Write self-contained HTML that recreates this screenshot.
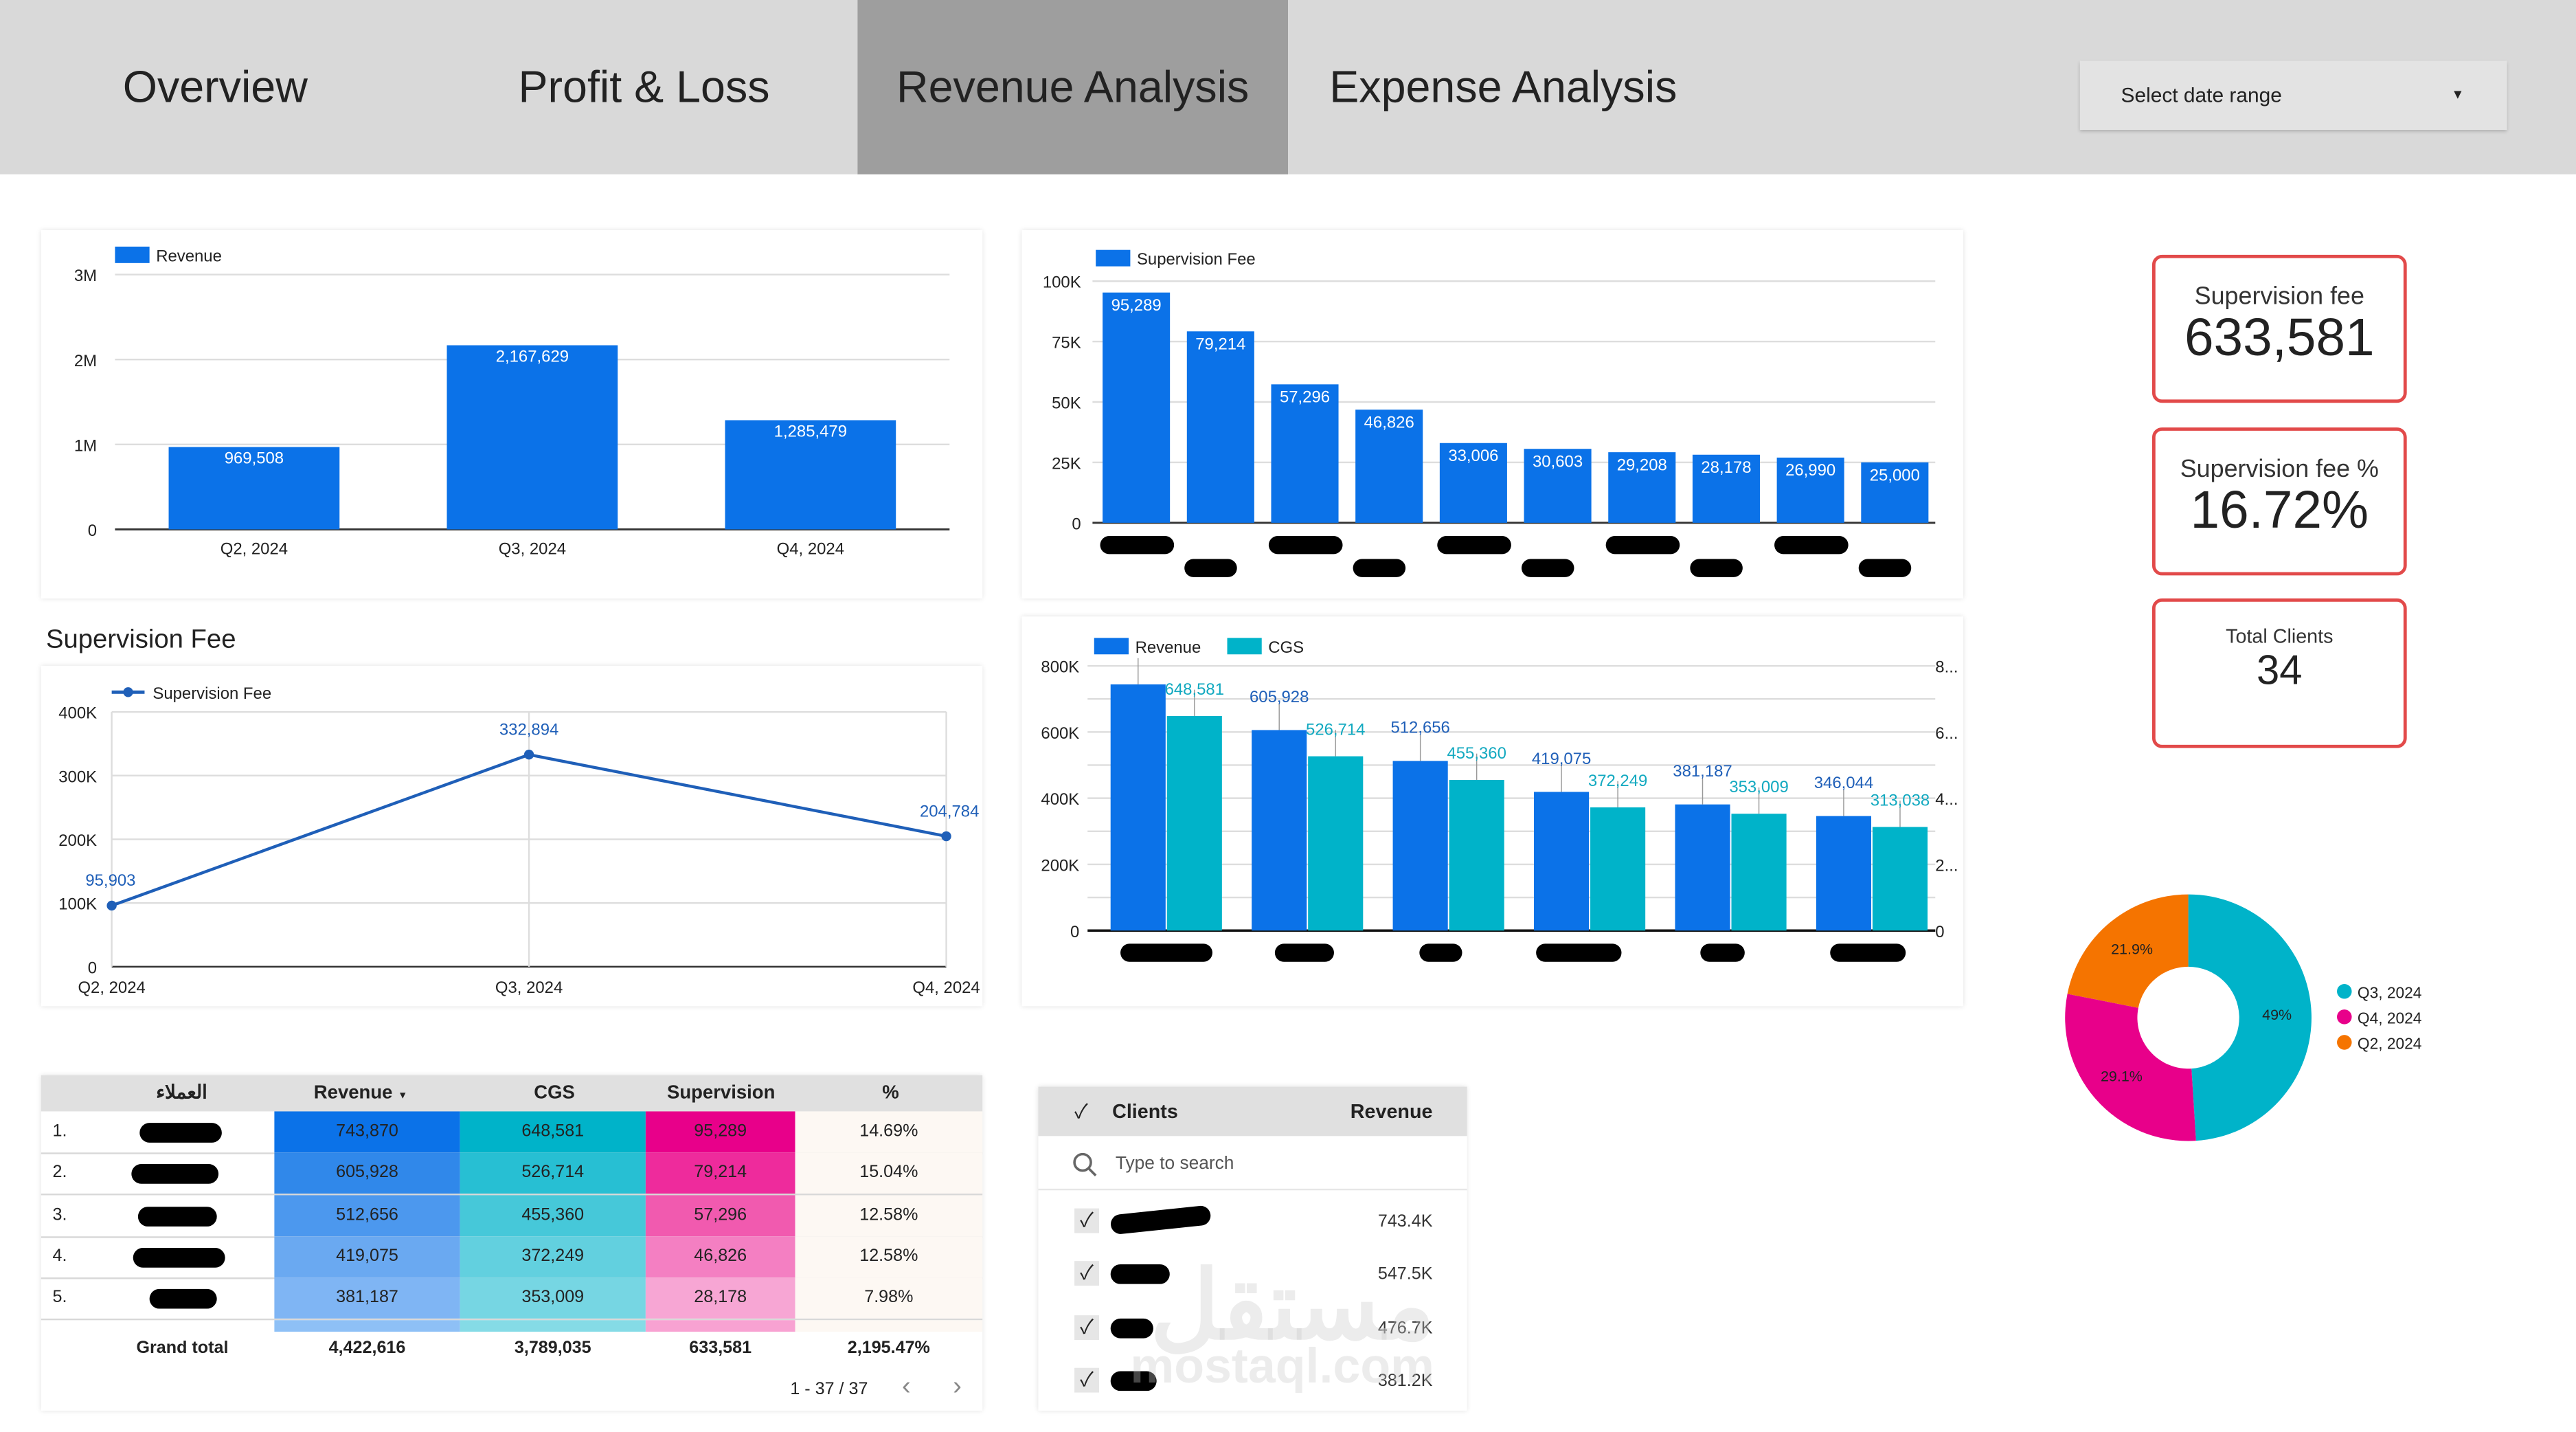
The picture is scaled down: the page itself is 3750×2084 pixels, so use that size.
<!DOCTYPE html>
<html><head><meta charset="utf-8">
<style>
html,body{margin:0;padding:0;background:#fff;overflow:hidden;width:3750px;height:2084px}
#root{position:absolute;left:0;top:0;width:1568px;height:871px;transform:scale(2.39158,2.39265);transform-origin:0 0;font-family:"Liberation Sans","Noto Sans CJK SC",sans-serif;color:#222}
.abs{position:absolute}
.tab{position:absolute;top:0;height:106px;width:262px;display:flex;align-items:center;justify-content:center;font-size:27px;color:#222}
.panel{position:absolute;background:#fff;box-shadow:0 0 3px rgba(0,0,0,0.12)}
.kpi{position:absolute;left:1310px;width:151px;border:2px solid #e24a4a;border-radius:6px;text-align:center;background:#fff}
svg text{font-family:"Liberation Sans",sans-serif}
</style></head><body>
<div id="root">
 <div class="abs" style="left:0;top:0;width:1568px;height:106px;background:#d9d9d9"></div>
 <div class="tab" style="left:0">Overview</div>
 <div class="tab" style="left:261px">Profit &amp; Loss</div>
 <div class="tab" style="left:522px;background:#9e9e9e">Revenue Analysis</div>
 <div class="tab" style="left:784px">Expense Analysis</div>
 <div class="abs" style="left:1266px;top:37px;width:260px;height:42px;background:#e3e3e3;box-shadow:0 1px 2px rgba(0,0,0,0.2);font-size:12.5px;line-height:42px"><span style="margin-left:25px">Select date range</span><span style="position:absolute;right:26px;font-size:8px">▼</span></div>

 <div class="panel" style="left:25px;top:140px;width:573px;height:224px"></div>
 <div class="panel" style="left:622px;top:140px;width:573px;height:224px"></div>
 <div class="abs" style="left:28px;top:381px;font-size:16px">Supervision Fee</div>
 <div class="panel" style="left:25px;top:405px;width:573px;height:207px"></div>
 <div class="panel" style="left:622px;top:375px;width:573px;height:237px"></div>

 <div class="kpi" style="top:155px;height:86px"><div style="font-size:15px;margin-top:15px;color:#333">Supervision fee</div><div style="font-size:32px;margin-top:-2px">633,581</div></div>
 <div class="kpi" style="top:260px;height:86px"><div style="font-size:15px;margin-top:15px;color:#333">Supervision fee %</div><div style="font-size:32px;margin-top:-2px">16.72%</div></div>
 <div class="kpi" style="top:364px;height:87px"><div style="font-size:12px;margin-top:14px;color:#333">Total Clients</div><div style="font-size:25px">34</div></div>

 <svg id="svg" class="abs" style="left:0;top:0" width="1568" height="871"></svg>

 <!-- table -->
 <div class="panel" style="left:25px;top:654px;width:573px;height:204px">
  <div id="tbl" style="position:relative;width:573px;height:204px;font-size:10.5px"></div>
 </div>
 <!-- client list -->
 <div class="panel" style="left:632px;top:661px;width:261px;height:197px">
  <div style="position:absolute;left:0;top:0;width:261px;height:30px;background:#e0e0e0;font-size:12px;font-weight:bold;line-height:30px">
   <span style="position:absolute;left:22px;font-weight:normal">✓</span>
   <span style="position:absolute;left:45px">Clients</span><span style="position:absolute;right:21px">Revenue</span></div>
  <div style="position:absolute;left:0;top:32px;width:261px;height:30px;font-size:11px;color:#555;line-height:30px;border-bottom:1px solid #e6e6e6">
   <svg style="position:absolute;left:21px;top:8px" width="16" height="16"><circle cx="6" cy="6" r="5" fill="none" stroke="#666" stroke-width="1.5"/><line x1="9.5" y1="9.5" x2="14" y2="14" stroke="#666" stroke-width="1.5"/></svg>
   <span style="position:absolute;left:47px">Type to search</span></div>
  <div id="clist"></div>
 </div>
 <div class="abs" style="left:700px;top:760px;font-size:58px;color:rgba(200,200,200,0.35);font-weight:bold">مستقل</div>
 <div class="abs" style="left:688px;top:815px;font-size:30px;color:rgba(200,200,200,0.35);font-weight:bold">mostaql.com</div>
</div>
<script>
// ---------- data ----------
const quarters = ["Q2, 2024","Q3, 2024","Q4, 2024"];
const revenueQ = [969508, 2167629, 1285479];
const revTicks = [0,1000000,2000000,3000000];
const revTickLabels = ["0","1M","2M","3M"];
const supFees = [95289,79214,57296,46826,33006,30603,29208,28178,26990,25000];
const supTicks = [0,25000,50000,75000,100000];
const supTickLabels = ["0","25K","50K","75K","100K"];
const supQ = [95903, 332894, 204784];
const lineTicks = [0,100000,200000,300000,400000];
const lineTickLabels = ["0","100K","200K","300K","400K"];
const rcRevenue = [743870,605928,512656,419075,381187,346044];
const rcCgs = [648581,526714,455360,372249,353009,313038];
const rcTicks = [0,200000,400000,600000,800000];
const rcTickLabels = ["0","200K","400K","600K","800K"];
const rcRightLabels = ["0","2...","4...","6...","8..."];
const donutLabels = ["Q3, 2024","Q4, 2024","Q2, 2024"];
const donutValues = [49, 29.1, 21.9];
const tblRevenue = [743870,605928,512656,419075,381187];
const tblCgs = [648581,526714,455360,372249,353009];
const tblSup = [95289,79214,57296,46826,28178];
const tblPct = ["14.69%","15.04%","12.58%","12.58%","7.98%"];
const tblTotals = ["4,422,616","3,789,035","633,581","2,195.47%"];
const listValues = ["743.4K","547.5K","476.7K","381.2K"];

const NS="http://www.w3.org/2000/svg", svg=document.getElementById('svg');
const BLUE="#0b72e8", TEAL="#00b3c9", PINK="#e8008a", ORANGE="#f57400";
function el(tag,attrs,parent){const e=document.createElementNS(NS,tag);for(const k in attrs)e.setAttribute(k,attrs[k]);(parent||svg).appendChild(e);return e;}
function txt(x,y,s,attrs){const t=el('text',Object.assign({x:x,y:y,'font-size':10,fill:'#222'},attrs||{}));t.textContent=s;return t;}
const fmt=v=>v.toLocaleString('en-US');
function blob(x,y,w,h){const b=el('rect',{x:x,y:y,width:w,height:h,rx:h/2,fill:'#000'});

}

// ---------- chart 1: revenue by quarter ----------
(function(){
 const x0=70,x1=578,y0=322,y1=167,max=3000000;
 const ys=v=>y0-(v/max)*(y0-y1);
 const band=(x1-x0)/quarters.length, bw=104;
 revTicks.forEach((t,i)=>{const g=el('line',{x1:x0,x2:x1,y1:ys(t),y2:ys(t),stroke:i?'#ddd':'#333','stroke-width':i?1:1.2});
  
  
  txt(x0-11,ys(t)+4,revTickLabels[i],{'text-anchor':'end'});});
 const lg=el('rect',{x:70,y:150,width:21,height:10,fill:BLUE});
 
 
 txt(95,159,"Revenue");
 revenueQ.forEach((v,i)=>{const cx=x0+band*(i+0.5)+(i-1)*0;
  const r=el('rect',{x:cx-bw/2,y:ys(v),width:bw,height:y0-ys(v),fill:BLUE});
  
  
  txt(cx,ys(v)+10,fmt(v),{'text-anchor':'middle',fill:'#fff'});
  txt(cx,337,quarters[i],{'text-anchor':'middle'});});
})();

// ---------- chart 2: supervision fee by client ----------
(function(){
 const x0=665,x1=1178,y0=318,y1=171,max=100000;
 const ys=v=>y0-(v/max)*(y0-y1);
 const band=(x1-x0)/supFees.length, bw=41;
 supTicks.forEach((t,i)=>{const g=el('line',{x1:x0,x2:x1,y1:ys(t),y2:ys(t),stroke:i?'#ddd':'#333','stroke-width':i?1:1.2});
  
  
  txt(x0-7,ys(t)+4,supTickLabels[i],{'text-anchor':'end'});});
 const lg=el('rect',{x:667,y:152,width:21,height:10,fill:BLUE});
 
 
 txt(692,161,"Supervision Fee");
 supFees.forEach((v,i)=>{const cx=x0+band*(i+0.5)+1;
  const r=el('rect',{x:cx-bw/2,y:ys(v),width:bw,height:y0-ys(v),fill:BLUE});
  
  
  txt(cx,ys(v)+11,fmt(v),{'text-anchor':'middle',fill:'#fff'});
  blob(cx-22,i%2?340:326,i%2?32:45,i%2?11:11);});
})();

// ---------- chart 3: supervision fee line ----------
(function(){
 const x0=68,x1=576,y0=588,y1=433,max=400000;
 const ys=v=>y0-(v/max)*(y0-y1), xs=i=>x0+i*(x1-x0)/(supQ.length-1);
 lineTicks.forEach((t,i)=>{const g=el('line',{x1:x0,x2:x1,y1:ys(t),y2:ys(t),stroke:i?'#ddd':'#333'});
  
  
  txt(x0-9,ys(t)+4,lineTickLabels[i],{'text-anchor':'end'});});
 quarters.forEach((q,i)=>{const g=el('line',{x1:xs(i),x2:xs(i),y1:y1,y2:y0,stroke:'#ddd'});
  
  
  txt(xs(i),604,q,{'text-anchor':'middle'});});
 const ll=el('line',{x1:68,x2:88,y1:421,y2:421,stroke:'#1f5fb8','stroke-width':2});
 
 
 el('circle',{cx:78,cy:421,r:3,fill:'#1f5fb8'});
 txt(93,425,"Supervision Fee");
 const p=el('polyline',{points:supQ.map((v,i)=>xs(i)+','+ys(v)).join(' '),fill:'none',stroke:'#1f5fb8','stroke-width':1.8});
 
 
 supQ.forEach((v,i)=>{const c=el('circle',{cx:xs(i),cy:ys(v),r:3,fill:'#1f5fb8'});
  
  
  const a=i==0?'start':(i==2?'end':'middle');
  txt(xs(i)+(i==0?-16:(i==2?20:0)),ys(v)-(i==0?12:12),fmt(v),{'text-anchor':a,fill:'#1f5fb8'});});
})();

// ---------- chart 4: revenue vs cgs ----------
(function(){
 const x0=662,x1=1178,y0=566,y1=405,max=800000;
 const ys=v=>y0-(v/max)*(y0-y1);
 for(let k=0;k<=8;k++){const t=k*100000;const g=el('line',{x1:x0,x2:x1,y1:ys(t),y2:ys(t),stroke:k?'#ddd':'#111','stroke-width':k?1:1.5});
  
  }
 rcTicks.forEach((t,i)=>{txt(657,ys(t)+4,rcTickLabels[i],{'text-anchor':'end'});txt(1178,ys(t)+4,rcRightLabels[i]);});
 const l1=el('rect',{x:666,y:388,width:21,height:10,fill:BLUE});
 
 
 txt(691,397,"Revenue");
 const l2=el('rect',{x:747,y:388,width:21,height:10,fill:TEAL});
 
 
 txt(772,397,"CGS");
 const start=676, step=85.9, bw=33.5;
 const blobs=[[682,56],[776,36],[864,26],[935,52],[1035,27],[1114,46]];
 rcRevenue.forEach((v,i)=>{const gx=start+i*step;
  const r=el('rect',{x:gx,y:ys(v),width:bw,height:y0-ys(v),fill:BLUE});
  
  
  const c=el('rect',{x:gx+bw+0.8,y:ys(rcCgs[i]),width:bw,height:y0-ys(rcCgs[i]),fill:TEAL});
  
  
  const lx=gx+bw/2, cx=gx+bw*1.5+0.8;
  el('line',{x1:lx,x2:lx,y1:ys(v)-16,y2:ys(v),stroke:'#999','stroke-width':0.6});
  el('line',{x1:cx,x2:cx,y1:ys(rcCgs[i])-16,y2:ys(rcCgs[i]),stroke:'#999','stroke-width':0.6});
  if(i>0)txt(lx,ys(v)-17,fmt(v),{'text-anchor':'middle',fill:'#1f5fb8'});
  txt(cx,ys(rcCgs[i])-13,fmt(rcCgs[i]),{'text-anchor':'middle',fill:'#12a9c0'});
  blob(blobs[i][0],574,blobs[i][1],11);});
})();

// ---------- donut ----------
(function(){
 const cx=1332,cy=619,R=75,r=31,cols=[TEAL,PINK,ORANGE];
 const tot=donutValues.reduce((a,b)=>a+b,0);let a0=-Math.PI/2;
 donutValues.forEach((v,i)=>{const a1=a0+v/tot*2*Math.PI,lg=(a1-a0)>Math.PI?1:0;
  const P=(rr,a)=>(cx+rr*Math.cos(a))+' '+(cy+rr*Math.sin(a));
  const s=el('path',{d:`M${P(R,a0)} A${R} ${R} 0 ${lg} 1 ${P(R,a1)} L${P(r,a1)} A${r} ${r} 0 ${lg} 0 ${P(r,a0)} Z`,fill:cols[i]});
  
  
  const am=(a0+a1)/2;
  txt(cx+54*Math.cos(am),cy+54*Math.sin(am)+3,v+'%',{'text-anchor':'middle','font-size':9});
  const d=el('circle',{cx:1427,cy:603+i*15.5,r:4.5,fill:cols[i]});
  
  
  txt(1435,607+i*15.5,donutLabels[i],{'font-size':9.5});
  a0=a1;});
})();

// ---------- table ----------
(function(){
 const t=document.getElementById('tbl');
 const revC=['#0b72e8','#3088ea','#4c98ee','#6aa9f1','#7fb5f4','#8ec0f6'];
 const cgsC=['#00b3c9','#27bfd3','#46c8d9','#62d0df','#76d6e3','#85dbe6'];
 const supC=['#e8008a','#ee2b9c','#f15aaf','#f47fc2','#f7a6d4','#f8a2d2'];
 let h='<div style="position:absolute;left:0;top:0;width:573px;height:22px;background:#e0e0e0;font-weight:bold;font-size:11.5px;line-height:22px">'+
 '<span style="position:absolute;left:70px">العملاء</span><span style="position:absolute;left:166px">Revenue <span style="font-size:6px">▼</span></span>'+
 '<span style="position:absolute;left:300px">CGS</span><span style="position:absolute;left:381px">Supervision</span><span style="position:absolute;left:512px">%</span></div>';
 const cols=[[142,113],[255,113],[368,91],[459,114]];
 for(let i=0;i<6;i++){const top=22+i*25.3, hgt=i<5?25.3:7;
  h+=`<div style="position:absolute;left:${cols[0][0]}px;top:${top}px;width:113px;height:${hgt}px;background:${revC[i]}"></div>`;
  h+=`<div style="position:absolute;left:${cols[1][0]}px;top:${top}px;width:113px;height:${hgt}px;background:${cgsC[i]}"></div>`;
  h+=`<div style="position:absolute;left:${cols[2][0]}px;top:${top}px;width:91px;height:${hgt}px;background:${supC[i]}"></div>`;
  h+=`<div style="position:absolute;left:${cols[3][0]}px;top:${top}px;width:114px;height:${hgt}px;background:#fdf8f3"></div>`;
  if(i<5){
   h+=`<div style="position:absolute;left:0;top:${top}px;width:573px;height:25px;line-height:25px;border-bottom:1.5px solid #d8d8d8">`+
   `<span style="position:absolute;left:7px">${i+1}.</span>`+
   `<span style="position:absolute;left:${[60,55,59,56,66][i]}px;top:7px;width:${[50,53,48,56,41][i]}px;height:12px;border-radius:6px;background:#000"></span>`+
   `<span style="position:absolute;left:142px;width:113px;text-align:center">${fmt(tblRevenue[i])}</span>`+
   `<span style="position:absolute;left:255px;width:113px;text-align:center">${fmt(tblCgs[i])}</span>`+
   `<span style="position:absolute;left:368px;width:91px;text-align:center">${fmt(tblSup[i])}</span>`+
   `<span style="position:absolute;left:459px;width:114px;text-align:center">${tblPct[i]}</span></div>`;}
 }
 h+='<div style="position:absolute;left:0;top:160px;width:573px;font-weight:bold;font-size:10.5px"><span style="position:absolute;left:58px">Grand total</span>'+
 tblTotals.map((v,i)=>`<span style="position:absolute;left:${cols[i][0]}px;width:${cols[i][1]}px;text-align:center">${v}</span>`).join('')+'</div>';
 h+='<div style="position:absolute;left:456px;top:185px;font-size:10.5px">1 - 37 / 37</div>';
 h+='<div style="position:absolute;left:524px;top:181px;font-size:16px;color:#888">‹</div>';
 h+='<div style="position:absolute;left:555px;top:181px;font-size:16px;color:#888">›</div>';
 t.innerHTML=h;
 const cl=document.getElementById('clist');let c='';
 const bw=[[44,61],[44,36],[44,26],[44,28]];
 listValues.forEach((v,i)=>{const top=69+i*32.3;
  c+=`<div style="position:absolute;left:0;top:${top}px;width:261px;height:26px;font-size:10.5px;line-height:26px">`+
  `<span style="position:absolute;left:22px;top:5px;width:15px;height:15px;background:#e6e6e6;font-size:12px;line-height:15px;text-align:center">✓</span>`+
  `<span style="position:absolute;left:${bw[i][0]}px;top:${i==0?6:7}px;width:${bw[i][1]}px;height:12px;border-radius:6px;background:#000;${i==0?'transform:rotate(-6deg)':''}"></span>`+
  `<span style="position:absolute;right:21px;color:#333">${v}</span></div>`;});
 cl.innerHTML=c;
})();
</script>
</body></html>
